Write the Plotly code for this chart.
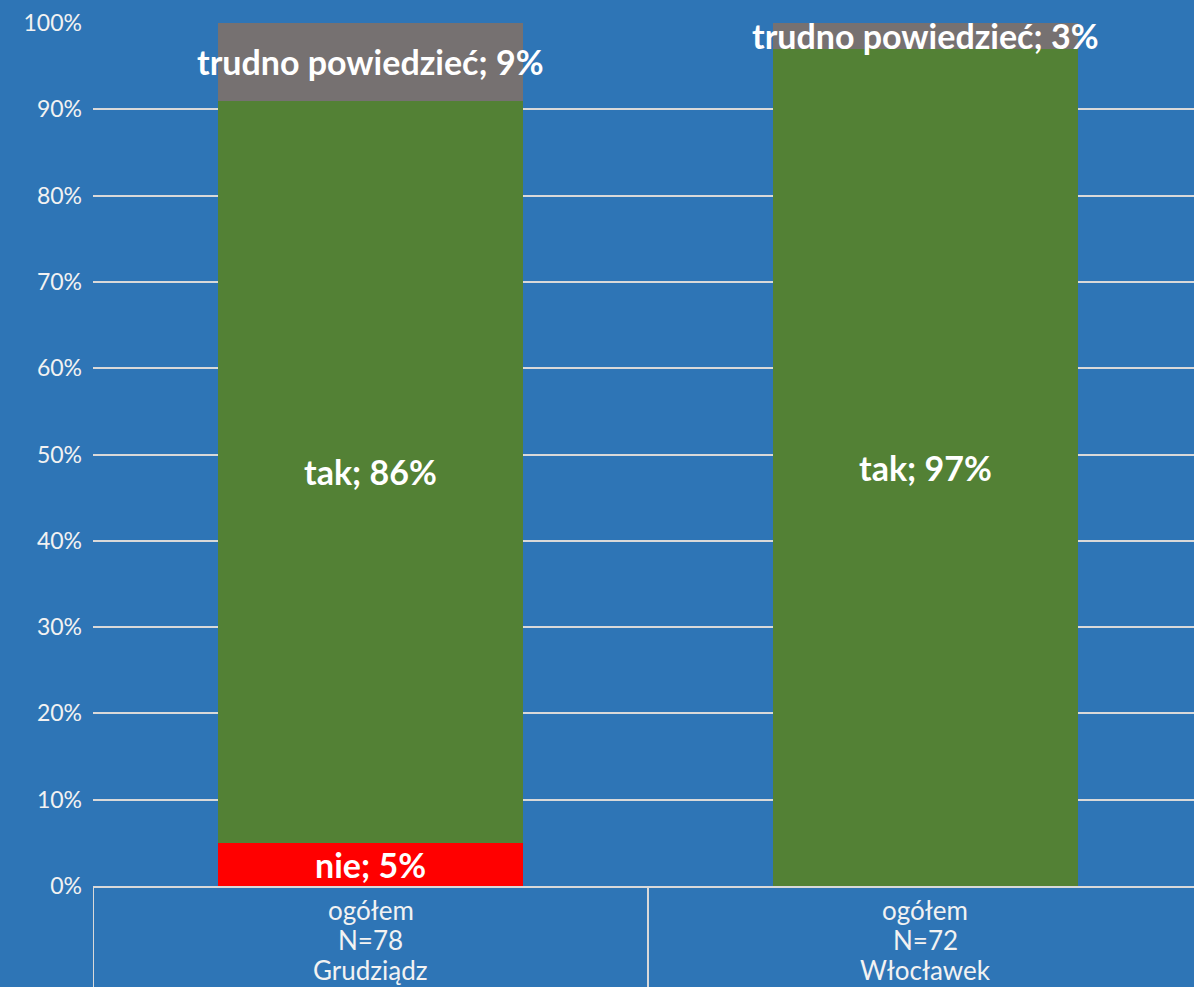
import plotly.graph_objects as go

category_lines = [["ogółem", "N=78", "Grudziądz"], ["ogółem", "N=72", "Włocławek"]]
series_names = ["nie", "tak", "trudno powiedzieć"]
nie = [5, 0]
tak = [86, 97]
trudno = [9, 3]
colors = ["#FF0000", "#538135", "#767171"]
tick_vals = [0, 10, 20, 30, 40, 50, 60, 70, 80, 90, 100]
tick_text = [f"{v}%" for v in tick_vals]

series = [nie, tak, trudno]
xpos = list(range(len(category_lines)))

fig = go.Figure()
for name, vals, col in zip(series_names, series, colors):
    fig.add_trace(go.Bar(x=xpos, y=vals, name=name, marker=dict(color=col, line=dict(width=0)),
                         width=0.55, showlegend=False, hoverinfo="skip"))

FONT = "Lato, Open Sans, sans-serif"
annotations = []
for i in xpos:
    base = 0
    for name, vals in zip(series_names, series):
        v = vals[i]
        if v > 0:
            annotations.append(dict(x=i, y=base + v / 2, xref="x", yref="y",
                                    text=f"<b>{name}; {v}%</b>", showarrow=False,
                                    font=dict(family=FONT, size=34, color="white"),
                                    xanchor="center", yanchor="middle"))
        base += v
    for j, line in enumerate(category_lines[i]):
        annotations.append(dict(x=i, y=0, xref="x", yref="paper", text=line, showarrow=False,
                                font=dict(family=FONT, size=26, color="#F2F2F2"),
                                xanchor="center", yanchor="middle", yshift=-(24 + 30 * j)))

shapes = []
for sx in [-0.5, 0.5]:
    shapes.append(dict(type="line", xref="x", yref="paper", x0=sx, x1=sx, y0=0, y1=-0.117,
                       line=dict(color="#D9D9D9", width=2)))

fig.update_layout(
    barmode="stack",
    width=1194, height=987,
    paper_bgcolor="#2E75B6", plot_bgcolor="#2E75B6",
    margin=dict(l=93, r=0, t=23, b=101),
    annotations=annotations,
    shapes=shapes,
    font=dict(family=FONT, color="#F2F2F2"),
    xaxis=dict(range=[-0.5, 1.4838], tickmode="array", tickvals=xpos, ticktext=["", ""],
               showgrid=False, zeroline=False, showline=True, linecolor="#D9D9D9",
               linewidth=2, ticks=""),
    yaxis=dict(range=[0, 100], tickmode="array", tickvals=tick_vals, ticktext=tick_text,
               tickfont=dict(size=23, color="#F2F2F2"), showgrid=True, gridcolor="#D9D9D9",
               gridwidth=2, zeroline=False, showline=False, ticks="", ticklen=0),
)
fig.update_yaxes(ticklabelstandoff=10)

fig.write_html("out.html", post_script="document.body.style.margin='0px';",
               config={"displayModeBar": False})
